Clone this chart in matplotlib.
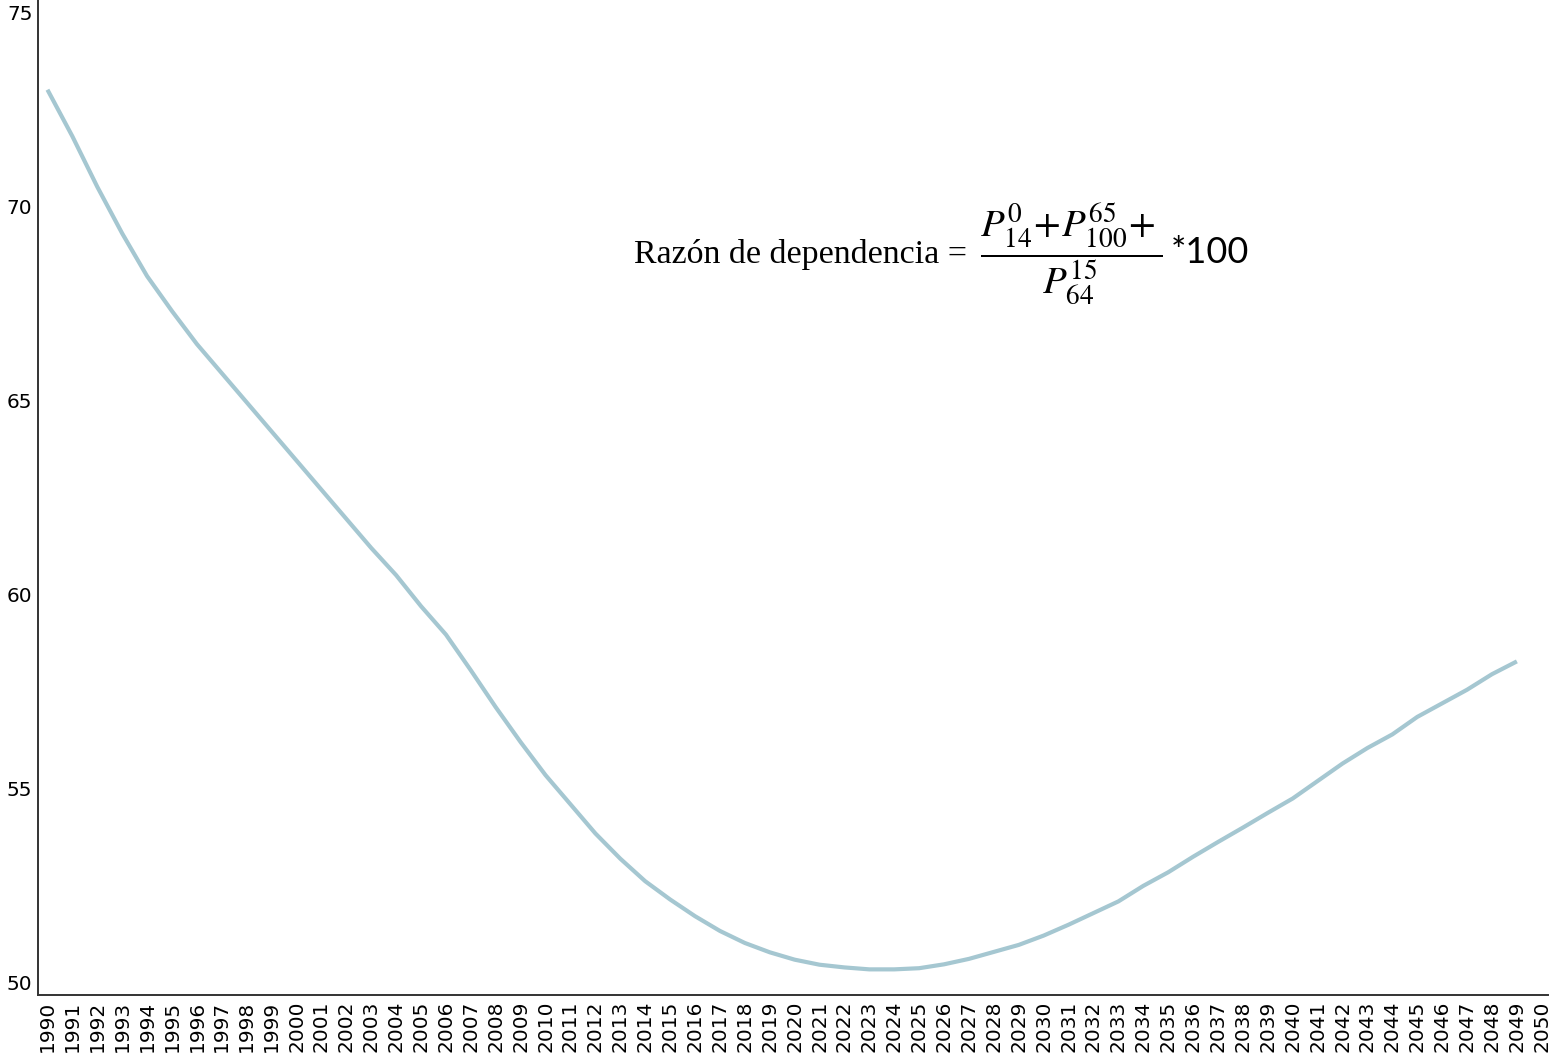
import numpy as np
import matplotlib.pyplot as plt

years = list(range(1990, 2050))
ratio = [73.0, 71.8, 70.5, 69.3, 68.2, 67.3, 66.45, 65.7, 64.95, 64.2,
         63.45, 62.7, 61.95, 61.2, 60.5, 59.7, 58.97, 58.05, 57.1, 56.2,
         55.35, 54.6, 53.85, 53.2, 52.62, 52.15, 51.72, 51.34, 51.03, 50.79,
         50.6, 50.47, 50.4, 50.35, 50.35, 50.38, 50.48, 50.62, 50.8, 50.98,
         51.22, 51.5, 51.8, 52.1, 52.5, 52.85, 53.25, 53.63, 54.0, 54.38,
         54.75, 55.2, 55.65, 56.05, 56.4, 56.85, 57.2, 57.55, 57.95, 58.28]
x_ticks = list(range(1990, 2051))
y_ticks = [50, 55, 60, 65, 70, 75]

plt.rcParams['mathtext.fontset'] = 'stix'

fig = plt.figure(figsize=(15.6, 10.62), dpi=100)
ax = fig.add_axes([38/1560, 1-995/1062, 1510/1560, 995/1062])

ax.plot(years, ratio, color='#a5c7d1', linewidth=3.0, solid_capstyle='butt')

ax.set_xlim(1989.62, 2050.25)
ax.set_ylim(49.69, 75.31)
ax.set_xticks(x_ticks)
ax.set_xticklabels([str(y) for y in x_ticks], rotation=90, fontsize=14.5)
ax.set_yticks(y_ticks)
ax.set_yticklabels([str(v) for v in y_ticks], fontsize=14.5)
ax.tick_params(length=0, pad=4)

for s in ['top', 'right']:
    ax.spines[s].set_visible(False)
for s in ['left', 'bottom']:
    ax.spines[s].set_color('#333333')
    ax.spines[s].set_linewidth(1.4)

# formula: text, fraction, factor
ax.text(0.3947, 0.7447, 'Razón de dependencia =',
        transform=ax.transAxes, ha='left', va='center',
        fontsize=24.5, family='Liberation Serif')
ax.text(0.6238, 0.7447, r'$\dfrac{P_{14}^{0}\!+\!P_{100}^{65}\!+}{P_{64}^{15}}$',
        transform=ax.transAxes, ha='left', va='center', fontsize=28)
ax.text(0.750, 0.7467, '*100',
        transform=ax.transAxes, ha='left', va='center',
        fontsize=26, family='Lato')

fig.savefig('out.png', dpi=100)
